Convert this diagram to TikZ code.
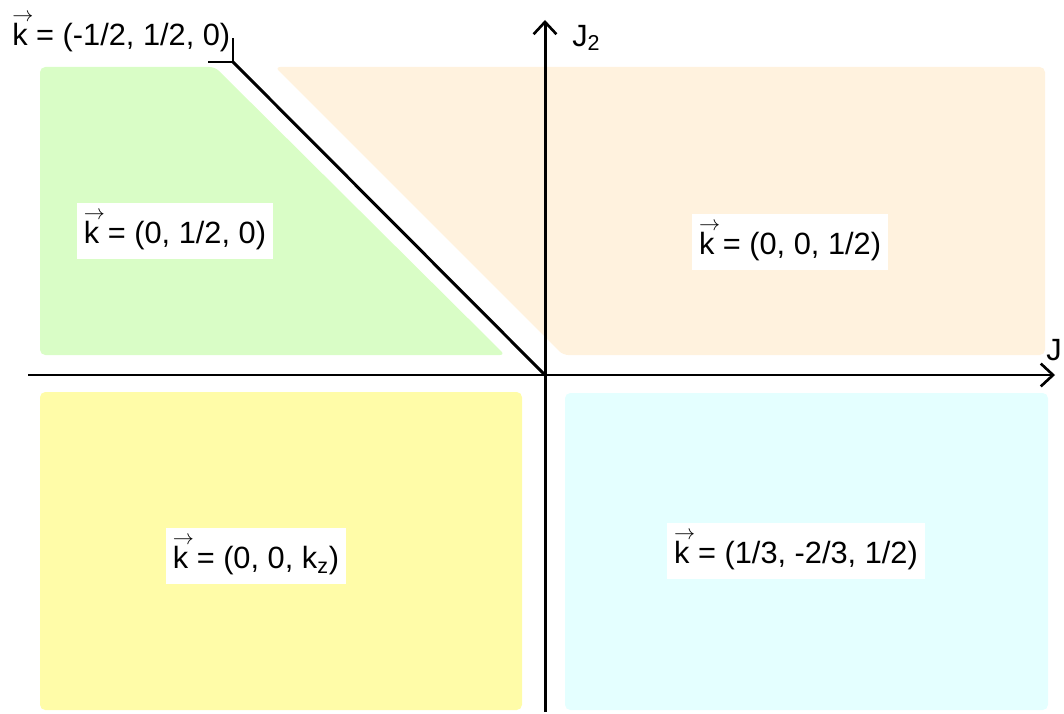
\documentclass[tikz,border=0pt]{standalone}
\usepackage{fontspec}
\setmainfont{Liberation Sans}
\usetikzlibrary{arrows.meta}
\definecolor{palegreen}{RGB}{217,253,198}
\definecolor{paleorange}{RGB}{255,242,222}
\definecolor{paleyellow}{RGB}{255,252,168}
\definecolor{palecyan}{RGB}{228,255,255}
\newcommand{\kvec}{\leavevmode\rlap{\raisebox{0.8em}{\fontsize{12.5}{12}\selectfont$\rightarrow$}}k}
\begin{document}
\begin{tikzpicture}[x=0.02cm, y=-0.02cm]
% Define styles
\tikzset{
  region/.style={rounded corners=3pt},
  axis/.style={line width=1.7pt, -{Straight Barb[length=7pt, width=13pt, line width=1.5pt]}},
  bigtext/.style={font=\fontsize{17.5}{20}\selectfont},
  klabel/.style={bigtext, fill=white, inner xsep=4pt, inner ysep=5pt},
}
\useasboundingbox (0,0) rectangle (1064,713);

% Phase regions
\fill[palegreen, region] (40,67) -- (215,67) -- (505,355) -- (40,355) -- cycle;
\fill[paleorange, region] (275,67) -- (1045,67) -- (1045,355) -- (563,355) -- cycle;
\fill[paleyellow, region] (40,392) rectangle (522,710);
\fill[palecyan, region] (565,393) rectangle (1048,710);

% Axes
\coordinate (O) at (545,375);
\coordinate (xl) at (28,375);
\coordinate (xr) at (1055,375);
\coordinate (yb) at (545,712);
\coordinate (yt) at (545,20);
\draw[axis] (xl) -- (xr);
\draw[axis] (yb) -- (yt);
\node[bigtext, anchor=west, inner sep=0pt] (J1) at (1046,350) {J};
\node[bigtext, anchor=west, inner sep=0pt] (J2) at (572,38) {J\textsubscript{2}};

% Phase boundary and its label
\coordinate (corner) at (233,62);
\coordinate (tick) at (233,38);
\coordinate (foot) at (208,62);
\draw[line width=1.7pt] (corner) -- (O);
\draw[line width=1.7pt] (foot) -| (tick);
\node[bigtext, anchor=base west, inner sep=0pt] (ktop) at (12,46) {\kvec{} = (-1/2, 1/2, 0)};

% Wave vectors
\node[klabel] (kgreen) at (175,231) {\kvec{} = (0, 1/2, 0)};
\node[klabel] (korange) at (790,242) {\kvec{} = (0, 0, 1/2)};
\node[klabel] (kyellow) at (256,556) {\kvec{} = (0, 0, k\textsubscript{z})};
\node[klabel] (kcyan) at (796,551) {\kvec{} = (1/3, -2/3, 1/2)};
\end{tikzpicture}
\end{document}
